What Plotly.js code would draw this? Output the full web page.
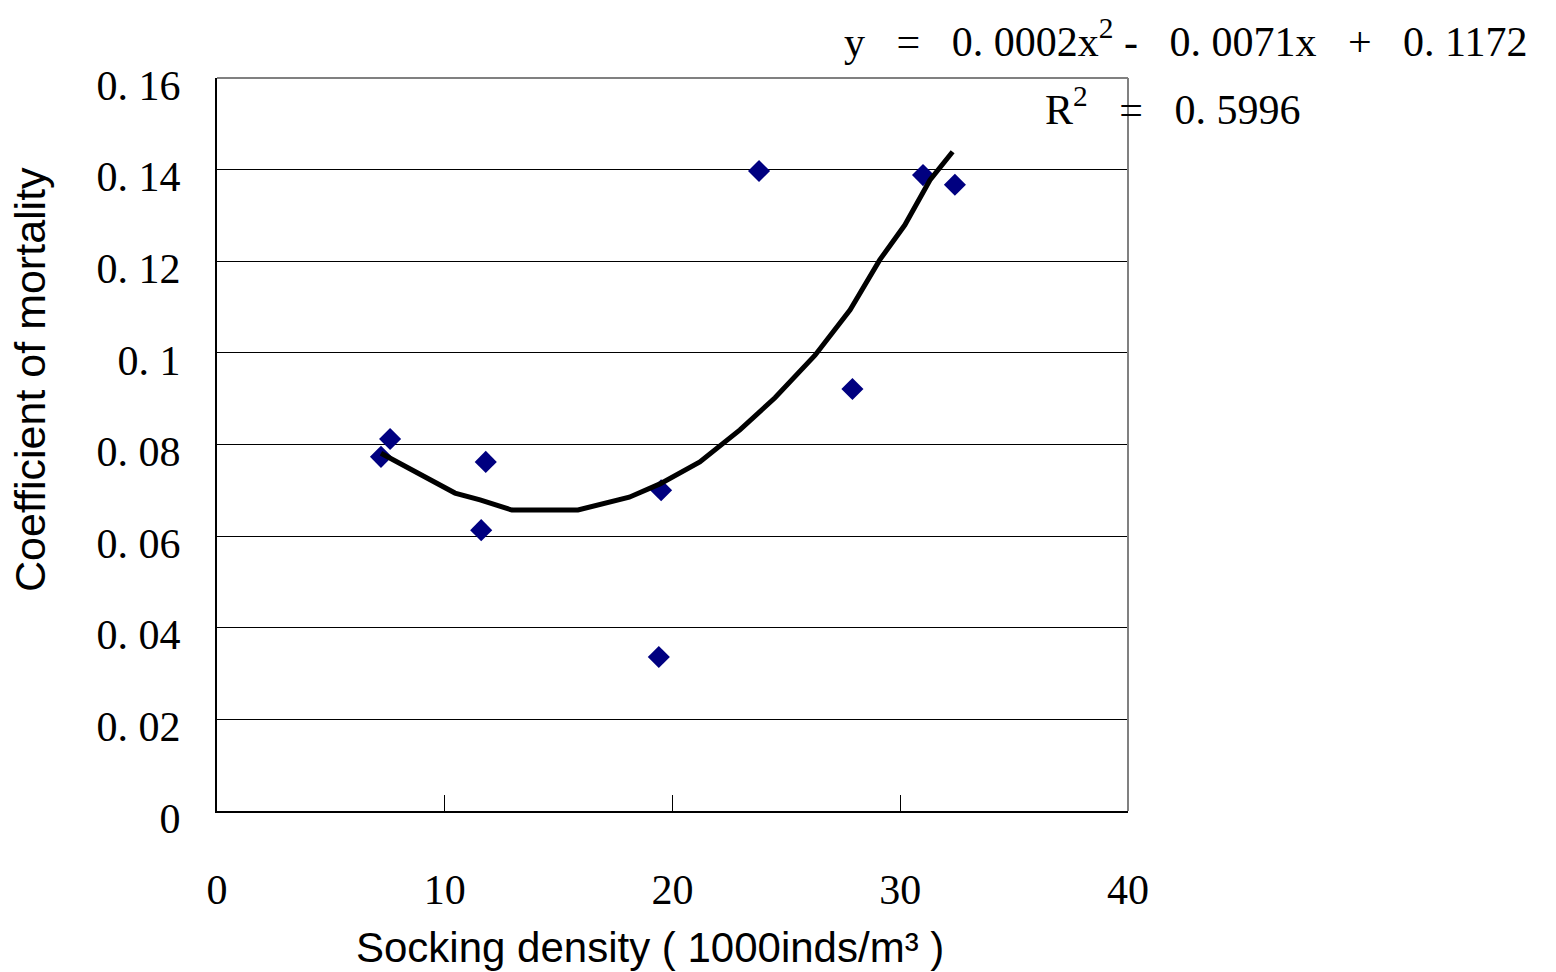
<!DOCTYPE html>
<html>
<head>
<meta charset="utf-8">
<script src="https://cdn.plot.ly/plotly-3.0.1.min.js"></script>
<style>html,body{margin:0;padding:0;background:#fff;}#chart{width:1556px;height:972px;}</style>
</head>
<body>
<div id="chart"></div>
<script>
// Observed points
const densityX = [7.2, 7.6, 11.6, 11.8, 19.4, 19.5, 23.8, 27.9, 31.0, 32.4];
const mortalityY = [0.0773, 0.0812, 0.0613, 0.0762, 0.0336, 0.0700, 0.1397, 0.0921, 0.1388, 0.1367];
// Polynomial trendline
const trendX = [7.2, 9.35, 10.45, 11.55, 12.95, 14.4, 15.85, 18.1, 19.45, 21.2, 22.96, 24.5, 26.26, 27.8, 29.1, 30.2, 31.3, 32.3];
const trendY = [0.0781, 0.0723, 0.0694, 0.0679, 0.0657, 0.0657, 0.0657, 0.0685, 0.0714, 0.0762, 0.0832, 0.0902, 0.0995, 0.1094, 0.1203, 0.1279, 0.1377, 0.1439];
// Tick labels
const yTickVals = [0, 0.02, 0.04, 0.06, 0.08, 0.1, 0.12, 0.14, 0.16];
const yTickText = ['0', '0. 02', '0. 04', '0. 06', '0. 08', '0. 1', '0. 12', '0. 14', '0. 16'];
const xTickVals = [0, 10, 20, 30, 40];
const xTickText = ['0', '10', '20', '30', '40'];
const nb = '\u00a0';
const eqText = 'y' + nb+nb+nb + '=' + nb+nb+nb + '0.' + nb + '0002x<sup>2</sup>' + nb + '-' + nb+nb+nb + '0.' + nb + '0071x' + nb+nb+nb + '+' + nb+nb+nb + '0.' + nb + '1172';
const r2Text = 'R<sup>2</sup>' + nb+nb+nb + '=' + nb+nb+nb + '0.' + nb + '5996';

const serif = 'Liberation Serif, DejaVu Serif, serif';
const sans = 'Liberation Sans, Arial, sans-serif';

const traces = [
  {
    x: densityX, y: mortalityY, type: 'scatter', mode: 'markers',
    marker: {symbol: 'diamond', size: 17, color: '#000080', line: {width: 0}},
    showlegend: false, hoverinfo: 'x+y'
  },
  {
    x: trendX, y: trendY, type: 'scatter', mode: 'lines',
    line: {color: '#000', width: 5}, showlegend: false, hoverinfo: 'skip'
  }
];

const layout = {
  width: 1556, height: 972,
  margin: {l: 217, r: 428, t: 78, b: 161},
  paper_bgcolor: '#fff', plot_bgcolor: '#fff',
  xaxis: {
    range: [0, 40], tickvals: xTickVals, ticktext: xTickText,
    ticks: 'inside', ticklen: 16, tickwidth: 1, tickcolor: '#000',
    showgrid: false, zeroline: false,
    showline: true, linecolor: '#000', linewidth: 2,
    tickfont: {family: serif, size: 42, color: '#000'},
    ticklabelstandoff: 41
  },
  yaxis: {
    range: [0, 0.16], tickvals: yTickVals, ticktext: yTickText,
    ticks: 'inside', ticklen: 16, tickwidth: 1, tickcolor: '#000',
    showgrid: true, gridcolor: '#000', gridwidth: 1, zeroline: false,
    showline: true, linecolor: '#000', linewidth: 2,
    tickfont: {family: serif, size: 42, color: '#000'},
    ticklabelstandoff: 26, ticklabelshift: 7
  },
  shapes: [
    {type: 'line', xref: 'paper', yref: 'paper', x0: 0, x1: 1, y0: 1, y1: 1, line: {color: '#808080', width: 2}},
    {type: 'line', xref: 'paper', yref: 'paper', x0: 1, x1: 1, y0: 0, y1: 1, line: {color: '#808080', width: 2}}
  ],
  annotations: [
    {text: eqText, xref: 'paper', yref: 'paper', x: (1186 - 217) / 911, y: (811 - 38) / 733,
     xanchor: 'center', yanchor: 'middle', showarrow: false,
     font: {family: serif, size: 42, color: '#000'}},
    {text: r2Text, xref: 'paper', yref: 'paper', x: (1172 - 217) / 911, y: (811 - 106) / 733,
     xanchor: 'center', yanchor: 'middle', showarrow: false,
     font: {family: serif, size: 42, color: '#000'}},
    {text: 'Socking density ( 1000inds/m\u00b3 )', xref: 'paper', yref: 'paper',
     x: (650 - 217) / 911, y: (811 - 947) / 733, xanchor: 'center', yanchor: 'middle', showarrow: false,
     font: {family: sans, size: 42, color: '#000'}},
    {text: 'Coefficient of mortality', xref: 'paper', yref: 'paper', textangle: -90,
     x: (30 - 217) / 911, y: (811 - 380) / 733, xanchor: 'center', yanchor: 'middle', showarrow: false,
     font: {family: sans, size: 43, color: '#000'}}
  ]
};

Plotly.newPlot('chart', traces, layout, {displayModeBar: false, staticPlot: true});
</script>
</body>
</html>
